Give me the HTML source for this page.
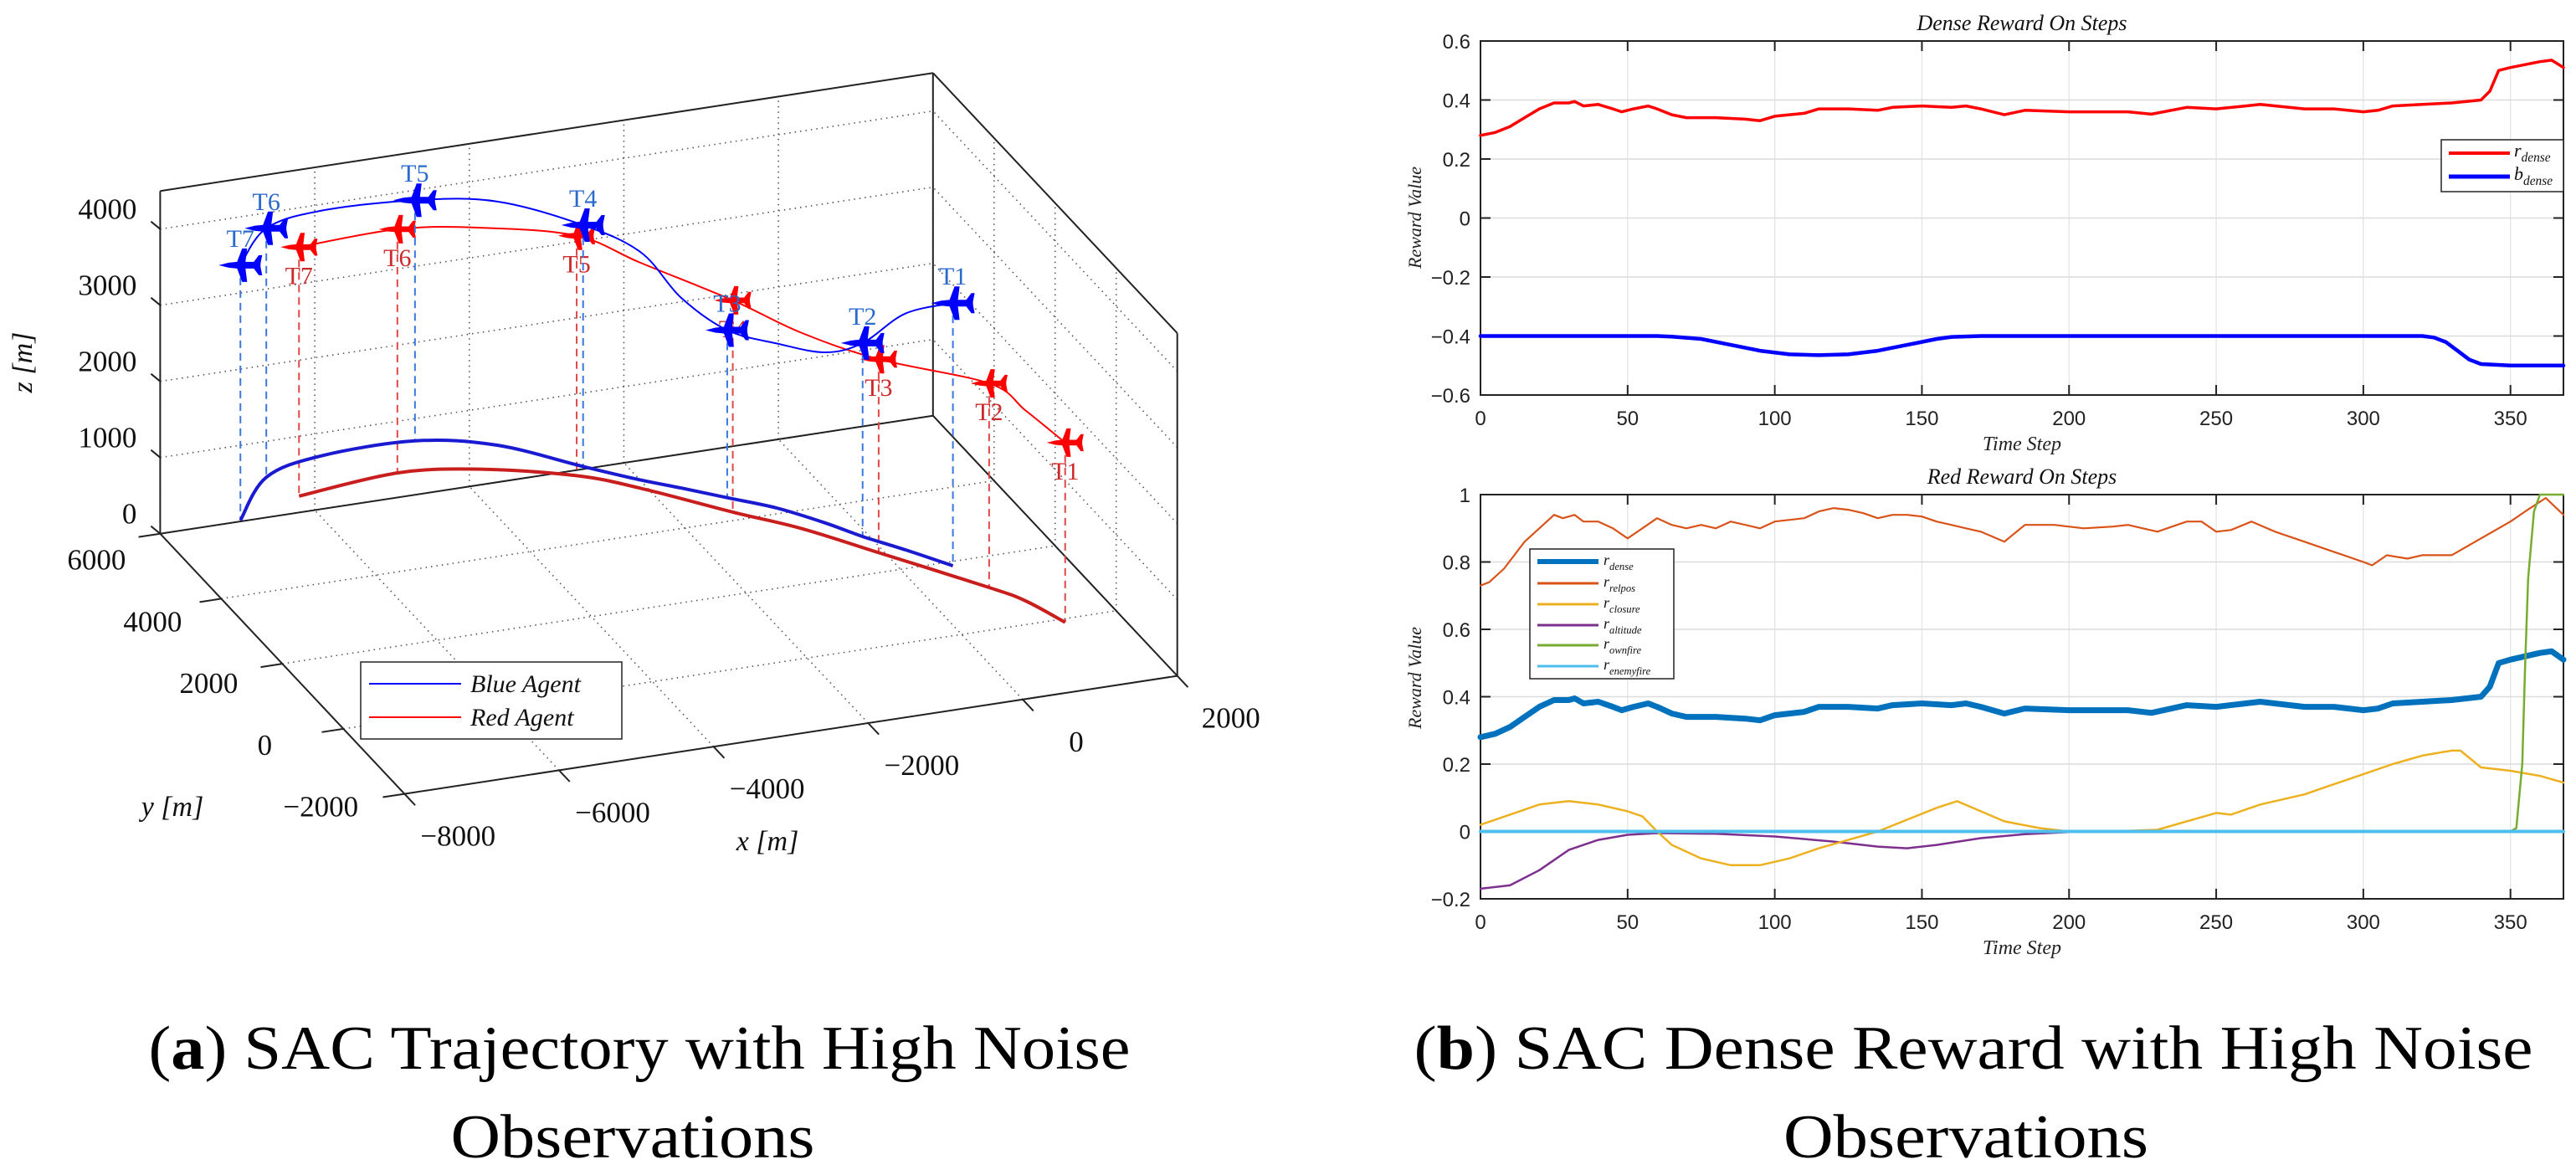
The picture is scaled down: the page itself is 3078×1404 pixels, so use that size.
<!DOCTYPE html>
<html><head><meta charset="utf-8"><style>
html,body{margin:0;padding:0;background:#fff;}
svg{display:block;}
</style></head><body>
<svg id="fig" xmlns="http://www.w3.org/2000/svg" width="3078" height="1404" viewBox="0 0 3078 1404">
<rect width="3078" height="1404" fill="#fff"/>
<g id="left3d"></g>
<g id="topchart"></g>
<g id="botchart"></g>
<text x="764" y="1277" text-anchor="middle" font-family="Liberation Serif, serif" font-size="74" textLength="1173" lengthAdjust="spacingAndGlyphs">(<tspan font-weight="bold">a</tspan>) SAC Trajectory with High Noise</text>
<text x="756" y="1383" text-anchor="middle" font-family="Liberation Serif, serif" font-size="74" textLength="435" lengthAdjust="spacingAndGlyphs">Observations</text>
<text x="2358" y="1277" text-anchor="middle" font-family="Liberation Serif, serif" font-size="74" textLength="1337" lengthAdjust="spacingAndGlyphs">(<tspan font-weight="bold">b</tspan>) SAC Dense Reward with High Noise</text>
<text x="2349" y="1383" text-anchor="middle" font-family="Liberation Serif, serif" font-size="74" textLength="436" lengthAdjust="spacingAndGlyphs">Observations</text>
</svg>
<script>
// ===== 3D trajectory data =====
const blueX = [-6950,-6200,-5360,-4130,-3250,-2500,-1990,-1620,-1200,-750,-360,-80,260,630];
const blueY = [6030,7080,7430,7450,7000,6070,5470,5090,4640,4160,3560,3040,2510,1880];
const blueZ = [3350,3270,3220,3160,3200,3170,2990,2500,2200,2160,2240,2540,3100,3450];
const redX = [-6030,-4670,-3690,-2670,-2080,-1290,-690,-70,810,1080,1300];
const redY = [6440,6660,6420,5850,5250,4230,3510,2540,1150,640,-100];
const redZ = [3270,3200,3170,3150,2960,2780,2570,2540,2680,2500,2360];
const blueMarkIdx = [13,11,8,5,3,1,0];
const redMarkIdx = [10,8,7,5,3,1,0];
const markLabels = ["T1","T2","T3","T4","T5","T6","T7"];
const xTicks3 = [-8000,-6000,-4000,-2000,0,2000];
const yTicks3 = [-2000,0,2000,4000,6000];
const zTicks3 = [0,1000,2000,3000,4000];

// ===== Dense reward chart data =====
const stepsR = [0,5,10,15,20,25,30,32,35,40,45,48,52,57,60,65,70,80,90,95,100,110,115,125,135,140,150,160,165,170,178,185,200,210,220,228,240,250,260,265,280,290,300,305,310,320,330,340,343,346,350,360,364,368];
const rDense = [0.28,0.29,0.31,0.34,0.37,0.39,0.39,0.395,0.38,0.385,0.37,0.36,0.37,0.38,0.37,0.35,0.34,0.34,0.335,0.33,0.345,0.355,0.37,0.37,0.365,0.375,0.38,0.375,0.38,0.37,0.35,0.365,0.36,0.36,0.36,0.352,0.375,0.37,0.38,0.385,0.37,0.37,0.36,0.365,0.38,0.385,0.39,0.40,0.43,0.50,0.51,0.53,0.535,0.51];
const stepsB = [0,60,65,75,85,95,105,115,125,135,145,155,160,170,320,324,328,332,336,340,350,368];
const bDense = [-0.4,-0.4,-0.402,-0.41,-0.43,-0.45,-0.462,-0.465,-0.462,-0.45,-0.43,-0.41,-0.403,-0.4,-0.4,-0.405,-0.42,-0.45,-0.48,-0.495,-0.5,-0.5];

// ===== Red reward chart data =====
const stepsRel = [0,3,8,15,20,25,28,32,35,40,45,50,55,60,65,70,75,80,85,90,95,100,105,110,115,120,125,130,135,140,145,150,155,160,165,170,178,185,195,205,215,220,230,240,245,250,255,262,270,280,290,300,303,308,315,320,330,340,350,355,362,368];
const rRelpos = [0.73,0.74,0.78,0.86,0.9,0.94,0.93,0.94,0.92,0.92,0.9,0.87,0.9,0.93,0.91,0.9,0.91,0.9,0.92,0.91,0.9,0.92,0.925,0.93,0.95,0.96,0.955,0.945,0.93,0.94,0.94,0.935,0.92,0.91,0.9,0.89,0.86,0.91,0.91,0.9,0.905,0.91,0.89,0.92,0.92,0.89,0.895,0.92,0.89,0.86,0.83,0.80,0.79,0.82,0.81,0.82,0.82,0.87,0.92,0.95,0.99,0.94];
const stepsClo = [0,10,20,30,40,50,55,60,65,75,85,95,105,115,125,135,145,155,162,170,178,190,200,210,220,230,240,250,255,265,280,290,300,310,320,330,333,340,350,360,368];
const rClosure = [0.02,0.05,0.08,0.09,0.08,0.06,0.045,0.0,-0.04,-0.08,-0.1,-0.1,-0.08,-0.05,-0.025,0.0,0.035,0.07,0.09,0.06,0.03,0.01,0.0,-0.002,0.002,0.005,0.03,0.055,0.05,0.08,0.11,0.14,0.17,0.2,0.225,0.24,0.24,0.19,0.18,0.165,0.145];
const stepsAlt = [0,10,20,30,40,50,60,80,100,120,135,145,155,170,185,200,220,368];
const rAltitude = [-0.17,-0.16,-0.115,-0.055,-0.025,-0.01,-0.005,-0.007,-0.015,-0.03,-0.045,-0.05,-0.04,-0.02,-0.008,-0.002,0,0];
const stepsOwn = [0,350,352,354,355,356,358,360,368];
const rOwnfire = [0,0,0.01,0.2,0.5,0.75,0.95,1.0,1.0];
const stepsEn = [0,368];
const rEnemyfire = [0,0];
const xTicksR = [0,50,100,150,200,250,300,350];
const yTicksTop = [-0.6,-0.4,-0.2,0,0.2,0.4,0.6];
const yTicksBot = [-0.2,0,0.2,0.4,0.6,0.8,1];

const NS = "http://www.w3.org/2000/svg";
function mk(parent, tag, attrs){
  const e = document.createElementNS(NS, tag);
  for (const k in attrs) e.setAttribute(k, attrs[k]);
  parent.appendChild(e);
  return e;
}
function smoothPath(pts){
  if (pts.length < 2) return "";
  let d = "M" + pts[0][0].toFixed(1) + "," + pts[0][1].toFixed(1);
  for (let i = 0; i < pts.length - 1; i++){
    const p0 = pts[Math.max(0,i-1)], p1 = pts[i], p2 = pts[i+1], p3 = pts[Math.min(pts.length-1,i+2)];
    const c1x = p1[0] + (p2[0]-p0[0])/6, c1y = p1[1] + (p2[1]-p0[1])/6;
    const c2x = p2[0] - (p3[0]-p1[0])/6, c2y = p2[1] - (p3[1]-p1[1])/6;
    d += " C" + c1x.toFixed(1)+","+c1y.toFixed(1)+" "+c2x.toFixed(1)+","+c2y.toFixed(1)+" "+p2[0].toFixed(1)+","+p2[1].toFixed(1);
  }
  return d;
}
function linePath(pts){
  return pts.map((p,i)=>(i?"L":"M")+p[0].toFixed(1)+","+p[1].toFixed(1)).join(" ");
}

// ===== 3D projection =====
const XMIN=-8000, XMAX=2000, YMIN=-2000, YMAX=6000, ZMAX=4500;
function proj(x,y,z){
  const a = (x - XMIN)/(XMAX - XMIN);
  const b = (y - YMIN)/(YMAX - YMIN);
  return [483.3 + a*923.4 - b*291.9, 948.6 - a*141.0 - b*310.9 - z*0.091];
}
const L = document.getElementById("left3d");
function line3(g, p, q, attrs){
  const A = proj(p[0],p[1],p[2]), B = proj(q[0],q[1],q[2]);
  return mk(g, "line", Object.assign({x1:A[0],y1:A[1],x2:B[0],y2:B[1]}, attrs));
}
const gridG = mk(L, "g", {});


const gs = {stroke:"#555", "stroke-width":1.6, "stroke-dasharray":"1.5,5", fill:"none"};
xTicks3.forEach(x => {
  line3(gridG,[x,YMIN,0],[x,YMAX,0],gs);
  line3(gridG,[x,YMAX,0],[x,YMAX,ZMAX],gs);
});
yTicks3.forEach(y => {
  line3(gridG,[XMIN,y,0],[XMAX,y,0],gs);
  line3(gridG,[XMAX,y,0],[XMAX,y,ZMAX],gs);
});
zTicks3.forEach(z => {
  line3(gridG,[XMIN,YMAX,z],[XMAX,YMAX,z],gs);
  line3(gridG,[XMAX,YMIN,z],[XMAX,YMAX,z],gs);
});
const boxG = mk(L, "g", {});


const bs = {stroke:"#222", "stroke-width":2};
[[[XMIN,YMAX,0],[XMIN,YMAX,ZMAX]],[[XMIN,YMAX,ZMAX],[XMAX,YMAX,ZMAX]],[[XMAX,YMAX,ZMAX],[XMAX,YMIN,ZMAX]],
 [[XMAX,YMIN,ZMAX],[XMAX,YMIN,0]],[[XMIN,YMAX,0],[XMIN,YMIN,0]],[[XMIN,YMIN,0],[XMAX,YMIN,0]],
 [[XMAX,YMIN,0],[XMAX,YMAX,0]],[[XMAX,YMAX,0],[XMIN,YMAX,0]],[[XMAX,YMAX,0],[XMAX,YMAX,ZMAX]]].forEach(s => line3(boxG,s[0],s[1],bs));

const tf = {"font-family":"Liberation Serif, serif", "font-size":35, fill:"#111"};
zTicks3.forEach(z => {
  const P = proj(XMIN,YMAX,z);
  mk(boxG,"line",{x1:P[0],y1:P[1],x2:P[0]-11,y2:P[1]-9,stroke:"#222","stroke-width":2});
  const t = mk(L,"text",Object.assign({x:P[0]-28,y:P[1]-12,"text-anchor":"end"},tf));
  t.textContent = z;
  
  
});
yTicks3.forEach(y => {
  const P = proj(XMIN,y,0), Q = proj(XMIN-280,y,0);
  mk(boxG,"line",{x1:P[0],y1:P[1],x2:Q[0],y2:Q[1],stroke:"#222","stroke-width":2});
  const f = (y - YMIN)/(YMAX - YMIN);
  const t = mk(L,"text",Object.assign({x:P[0]-76-24*(1-f),y:P[1]+43-16*(1-f),"text-anchor":"middle"},tf));
  t.textContent = y < 0 ? "\u2212" + Math.abs(y) : y;
  
  
});
xTicks3.forEach(x => {
  const P = proj(x,YMIN,0), Q = proj(x,YMIN-350,0);
  mk(boxG,"line",{x1:P[0],y1:P[1],x2:Q[0],y2:Q[1],stroke:"#222","stroke-width":2});
  const t = mk(L,"text",Object.assign({x:P[0]+64,y:P[1]+62,"text-anchor":"middle"},tf));
  t.textContent = x < 0 ? "\u2212" + Math.abs(x) : x;
  
  
});
const af = {"font-family":"Liberation Serif, serif","font-size":34,"font-style":"italic",fill:"#111","text-anchor":"middle"};
let t;
t = mk(L,"text",Object.assign({x:38,y:433,transform:"rotate(-90 38 433)"},af)); t.textContent="z [m]";
 
t = mk(L,"text",Object.assign({x:206,y:975},af)); t.textContent="y [m]";
 
t = mk(L,"text",Object.assign({x:917,y:1016},af)); t.textContent="x [m]";
 

function drawAgent(X,Y,Z,marks,airCol,groundCol,dashCol,labelCol,name,above){
  const g = mk(L,"g",{});
  
  
  marks.forEach(i => {
    const A = proj(X[i],Y[i],Z[i]), B = proj(X[i],Y[i],0);
    const dl = mk(g,"line",{x1:A[0],y1:A[1],x2:B[0],y2:B[1],stroke:dashCol,"stroke-width":2,"stroke-dasharray":"9,6"});
    
    
  });
  const ground = X.map((x,i)=>proj(x,Y[i],0));
  const gp = mk(g,"path",{d:smoothPath(ground),fill:"none",stroke:groundCol,"stroke-width":4});
  
  
  const air = X.map((x,i)=>proj(x,Y[i],Z[i]));
  const ap = mk(g,"path",{d:smoothPath(air),fill:"none",stroke:airCol,"stroke-width":2});
  
  
  marks.forEach((i,k) => {
    const P = air[i];
    const s = above ? 1.0 : 0.85;
    const pl = mk(g,"polygon",{points:"-26,0 -14,-3 -4,-4 2,-20 8,-20 6,-4 16,-4 22,-12 26,-12 24,-2 24,2 26,12 22,12 16,4 6,4 8,20 2,20 -4,4 -14,3",
      fill:airCol,transform:"translate("+P[0].toFixed(1)+","+P[1].toFixed(1)+") scale("+s+")"});
    
    
    const lb = mk(g,"text",{x:P[0],y:above?P[1]-22:P[1]+44,"text-anchor":"middle","font-family":"Liberation Serif, serif","font-size":30,fill:labelCol});
    lb.textContent = markLabels[k];
    
    
  });
}
drawAgent(redX,redY,redZ,redMarkIdx,"#ff0000","#c81e1e","#e04848","#cc2a2a","red",false);
drawAgent(blueX,blueY,blueZ,blueMarkIdx,"#0000ff","#1a1ad0","#3a78e0","#2a6acc","blue",true);

const lg = mk(L,"g",{});


mk(lg,"rect",{x:431,y:791,width:312,height:92,fill:"#fff",stroke:"#222","stroke-width":1.5});
mk(lg,"line",{x1:441,y1:817,x2:551,y2:817,stroke:"#0000ff","stroke-width":2});
mk(lg,"line",{x1:441,y1:857,x2:551,y2:857,stroke:"#ff0000","stroke-width":2});
t = mk(lg,"text",{x:562,y:827,"font-family":"Liberation Serif, serif","font-size":30,"font-style":"italic",fill:"#111"}); t.textContent="Blue Agent";
 
t = mk(lg,"text",{x:562,y:867,"font-family":"Liberation Serif, serif","font-size":30,"font-style":"italic",fill:"#111"}); t.textContent="Red Agent";
 

// ===== 2D charts =====
function chart(gid, top, bottom, ymin, ymax, yTicks, title){
  const G = document.getElementById(gid);
  const left = 1769, right = 3063, xmax = 368;
  const sx = v => left + (v/xmax)*(right-left);
  const sy = v => bottom - (v-ymin)/(ymax-ymin)*(bottom-top);
  const grid = mk(G,"g",{});
  
  
  xTicksR.forEach(v => { if (v>0) mk(grid,"line",{x1:sx(v),y1:top,x2:sx(v),y2:bottom,stroke:"#e2e2e2","stroke-width":1.2}); });
  yTicks.forEach(v => { mk(grid,"line",{x1:left,y1:sy(v),x2:right,y2:sy(v),stroke:"#dcdcdc","stroke-width":1.5}); });
  const ax = mk(G,"g",{});
  
  
  mk(ax,"rect",{x:left,y:top,width:right-left,height:bottom-top,fill:"none",stroke:"#222","stroke-width":2});
  xTicksR.forEach(v => {
    mk(ax,"line",{x1:sx(v),y1:bottom,x2:sx(v),y2:bottom-12,stroke:"#222","stroke-width":2});
    mk(ax,"line",{x1:sx(v),y1:top,x2:sx(v),y2:top+12,stroke:"#222","stroke-width":2});
    const tx = mk(ax,"text",{x:sx(v),y:bottom+36,"text-anchor":"middle","font-family":"Liberation Sans, sans-serif","font-size":24,fill:"#222"});
    tx.textContent = v;
    
    
  });
  yTicks.forEach(v => {
    mk(ax,"line",{x1:left,y1:sy(v),x2:left+12,y2:sy(v),stroke:"#222","stroke-width":2});
    mk(ax,"line",{x1:right,y1:sy(v),x2:right-12,y2:sy(v),stroke:"#222","stroke-width":2});
    const ty = mk(ax,"text",{x:1757,y:sy(v)+9,"text-anchor":"end","font-family":"Liberation Sans, sans-serif","font-size":24,fill:"#222"});
    ty.textContent = v < 0 ? "\u2212" + Math.abs(v) : String(v);
    
    
  });
  const tt = mk(G,"text",{x:(left+right)/2,y:top-13,"text-anchor":"middle","font-family":"Liberation Serif, serif","font-style":"italic","font-size":26,fill:"#111"});
  tt.textContent = title;
  
  
  const xl = mk(G,"text",{x:(left+right)/2,y:bottom+66,"text-anchor":"middle","font-family":"Liberation Serif, serif","font-style":"italic","font-size":24,fill:"#222"});
  xl.textContent = "Time  Step";
  
  
  const cy = gid === "topchart" ? 260 : 810;
  const yl = mk(G,"text",{x:1698,y:cy,transform:"rotate(-90 1698 "+cy+")","text-anchor":"middle","font-family":"Liberation Serif, serif","font-style":"italic","font-size":22,fill:"#222"});
  yl.textContent = "Reward  Value";
  
  
  return {G, sx, sy};
}
function series(c, xs, ys, color, w, name){
  const pts = xs.map((x,i)=>[c.sx(x), c.sy(ys[i])]);
  const p = mk(c.G,"path",{d:linePath(pts),fill:"none",stroke:color,"stroke-width":w,"stroke-linejoin":"round","stroke-linecap":"round"});
  
  
}
function legend(G, x, y, w, h, entries, lx1, lx2, tx, fs){
  const g = mk(G,"g",{});
  
  
  mk(g,"rect",{x:x,y:y,width:w,height:h,fill:"#fff",stroke:"#222","stroke-width":1.5});
  entries.forEach(e => {
    mk(g,"line",{x1:lx1,y1:e[3],x2:lx2,y2:e[3],stroke:e[1],"stroke-width":e[2]});
    const t = mk(g,"text",{x:tx,y:e[3]+4,"font-family":"Liberation Serif, serif","font-style":"italic","font-size":fs,fill:"#111"});
    const a = mk(t,"tspan",{}); a.textContent = e[0][0];
    const b = mk(t,"tspan",{"font-size":fs*0.7,dy:6}); b.textContent = e[0][1];
    
    
  });
}
const c1 = chart("topchart", 49, 472, -0.6, 0.6, yTicksTop, "Dense Reward On Steps");
series(c1, stepsR, rDense, "#ff0000", 3.5, "r-dense-line");
series(c1, stepsB, bDense, "#0000ff", 4.5, "b-dense-line");
legend(c1.G, 2917, 167, 146, 62, [[["r","dense"],"#ff0000",4,183],[["b","dense"],"#0000ff",5,211]], 2926, 2999, 3004, 22);

const c2 = chart("botchart", 591, 1074, -0.2, 1, yTicksBot, "Red Reward On Steps");
series(c2, stepsAlt, rAltitude, "#7E2F8E", 2.5, "r-altitude-line");
series(c2, stepsClo, rClosure, "#EDB120", 2.5, "r-closure-line");
series(c2, stepsRel, rRelpos, "#D95319", 2.2, "r-relpos-line");
series(c2, stepsR, rDense, "#0072BD", 7, "r-dense-line");
series(c2, stepsOwn, rOwnfire, "#77AC30", 2.5, "r-ownfire-line");
series(c2, stepsEn, rEnemyfire, "#4DBEEE", 4, "r-enemyfire-line");
legend(c2.G, 1828, 656, 172, 155, [
  [["r","dense"],"#0072BD",6,671],[["r","relpos"],"#D95319",3,697],[["r","closure"],"#EDB120",3,722],
  [["r","altitude"],"#7E2F8E",3,747],[["r","ownfire"],"#77AC30",3,771],[["r","enemyfire"],"#4DBEEE",3,796]
], 1837, 1910, 1916, 18);
</script>
</body></html>
